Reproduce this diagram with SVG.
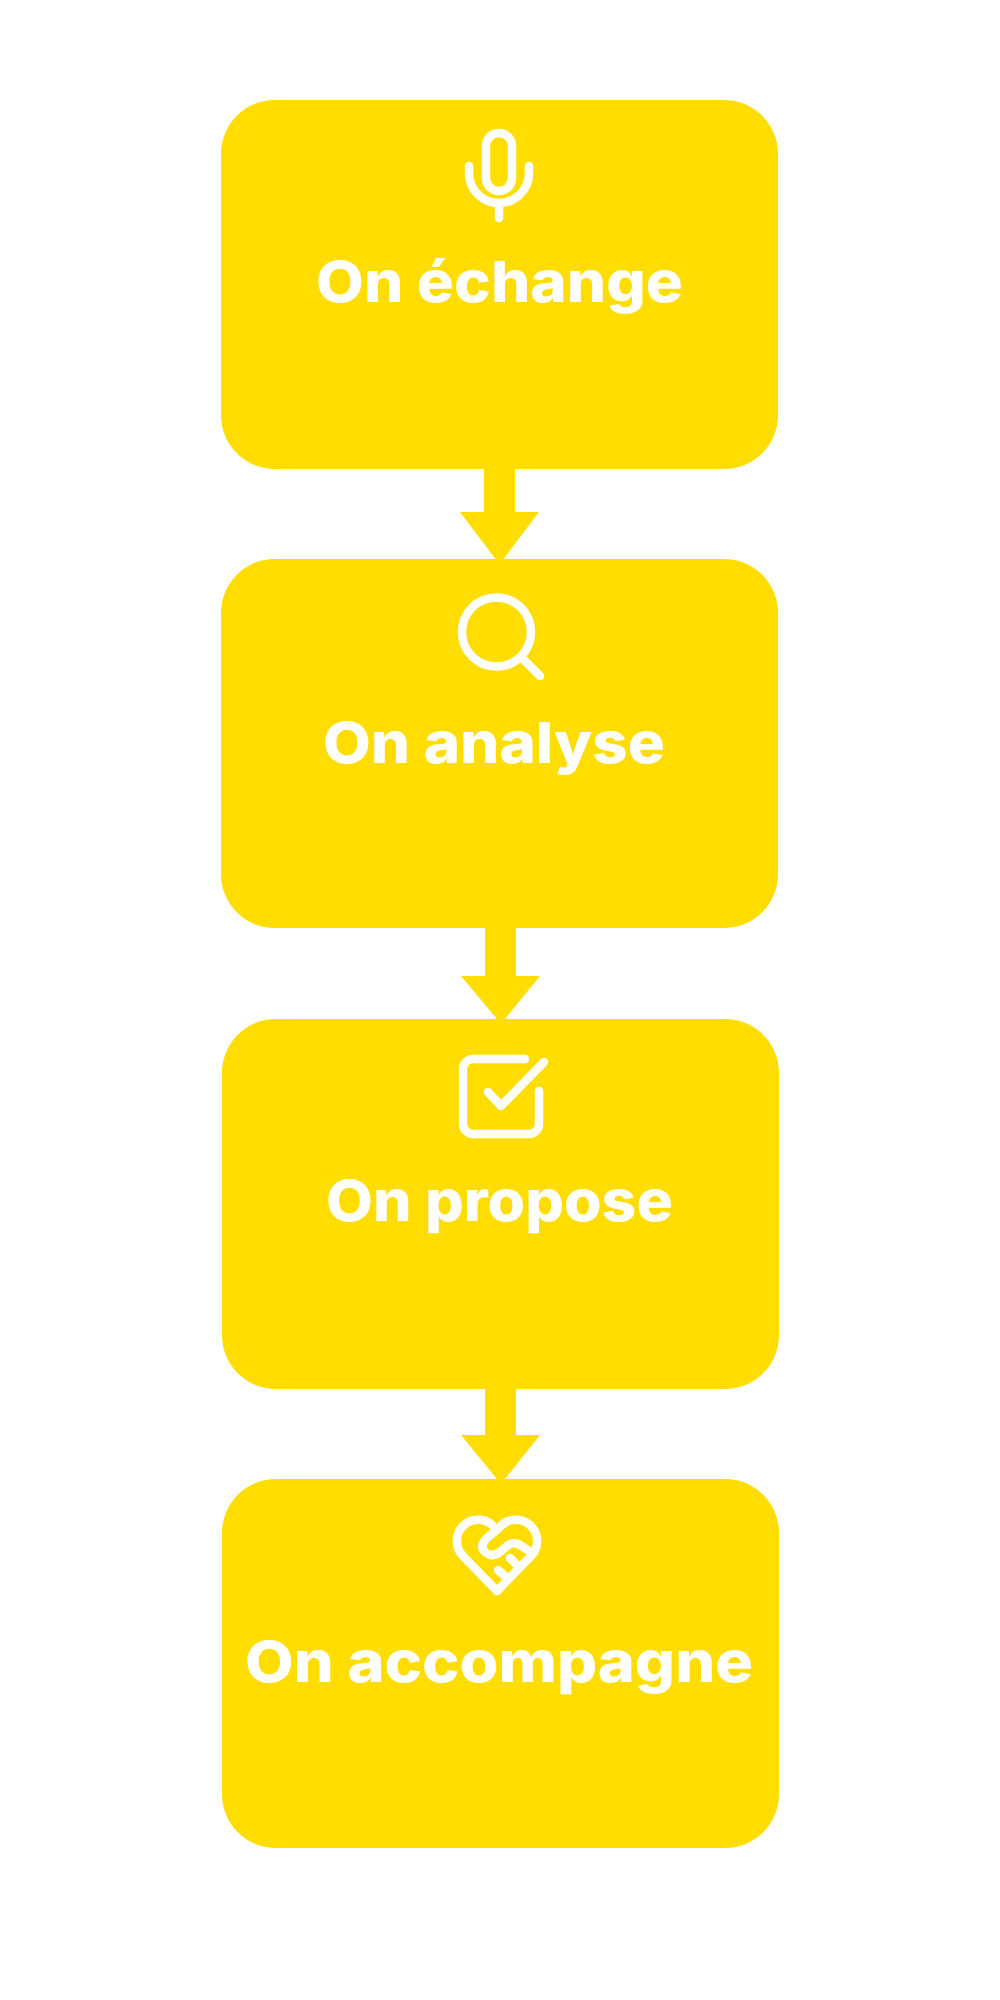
<svg xmlns="http://www.w3.org/2000/svg" width="1000" height="2000" viewBox="0 0 1000 2000">
<style>
.box{fill:#FFDD00}
.arrow{fill:#FFDD00}
.icon{fill:none;stroke:#fff;stroke-width:8.500;stroke-linecap:round;stroke-linejoin:round}
.label{fill:#fff;font-family:"Inter","Noto Sans",sans-serif;font-weight:800;font-size:57px}
</style>
<rect width="1000" height="2000" fill="#fff"/>
<g id="connectors">
<polygon class="arrow" points="484,469 515,469 515,512 539,512 503.500,559 495.500,559 460,512 484,512"/>
<polygon class="arrow" points="485,928 516,928 516,976 540,976 505,1019 497,1019 461,976 485,976"/>
<polygon class="arrow" points="485,1389 516,1389 516,1435 540,1435 505,1479 497,1479 461,1435 485,1435"/>
</g>
<g id="node-echange">
<rect class="box" x="221" y="100" width="557" height="369" rx="54"/>
<g class="icon"><rect x="486" y="133" width="26" height="58" rx="13"/><path d="M469 166V173A30 30 0 0 0 529 173V166M499 204V218"/></g>
<text class="label" x="316" y="302" textLength="367" lengthAdjust="spacingAndGlyphs">On échange</text>
</g>
<g id="node-analyse">
<rect class="box" x="221" y="559" width="557" height="369" rx="54"/>
<g class="icon"><circle cx="496.500" cy="632" r="34.500"/><path d="M522 658L540 676"/></g>
<text class="label" x="323" y="763" textLength="342" lengthAdjust="spacingAndGlyphs">On analyse</text>
</g>
<g id="node-propose">
<rect class="box" x="222" y="1019" width="557" height="370" rx="54"/>
<g class="icon"><path d="M525 1059H473A10 10 0 0 0 463 1069V1124A10 10 0 0 0 473 1134H529A10 10 0 0 0 539 1124V1091"/><path d="M488 1092L501 1106L544 1062"/></g>
<text class="label" x="326" y="1221" textLength="347" lengthAdjust="spacingAndGlyphs">On propose</text>
</g>
<g id="node-accompagne">
<rect class="box" x="222" y="1479" width="557" height="369" rx="54"/>
<g class="icon"><path d="M497 1591L463 1556A21.300 21.300 0 1 1 495 1528"/><path d="M497 1591L531 1556A21.300 21.300 0 1 0 499 1528L487 1538Q479 1546 485 1552Q492 1558 500 1552L507 1546Q513 1541 520 1545L532 1553"/><path d="M510 1558L518 1566M498 1570L506 1577"/></g>
<text class="label" x="245" y="1682" textLength="508" lengthAdjust="spacingAndGlyphs">On accompagne</text>
</g>
</svg>
